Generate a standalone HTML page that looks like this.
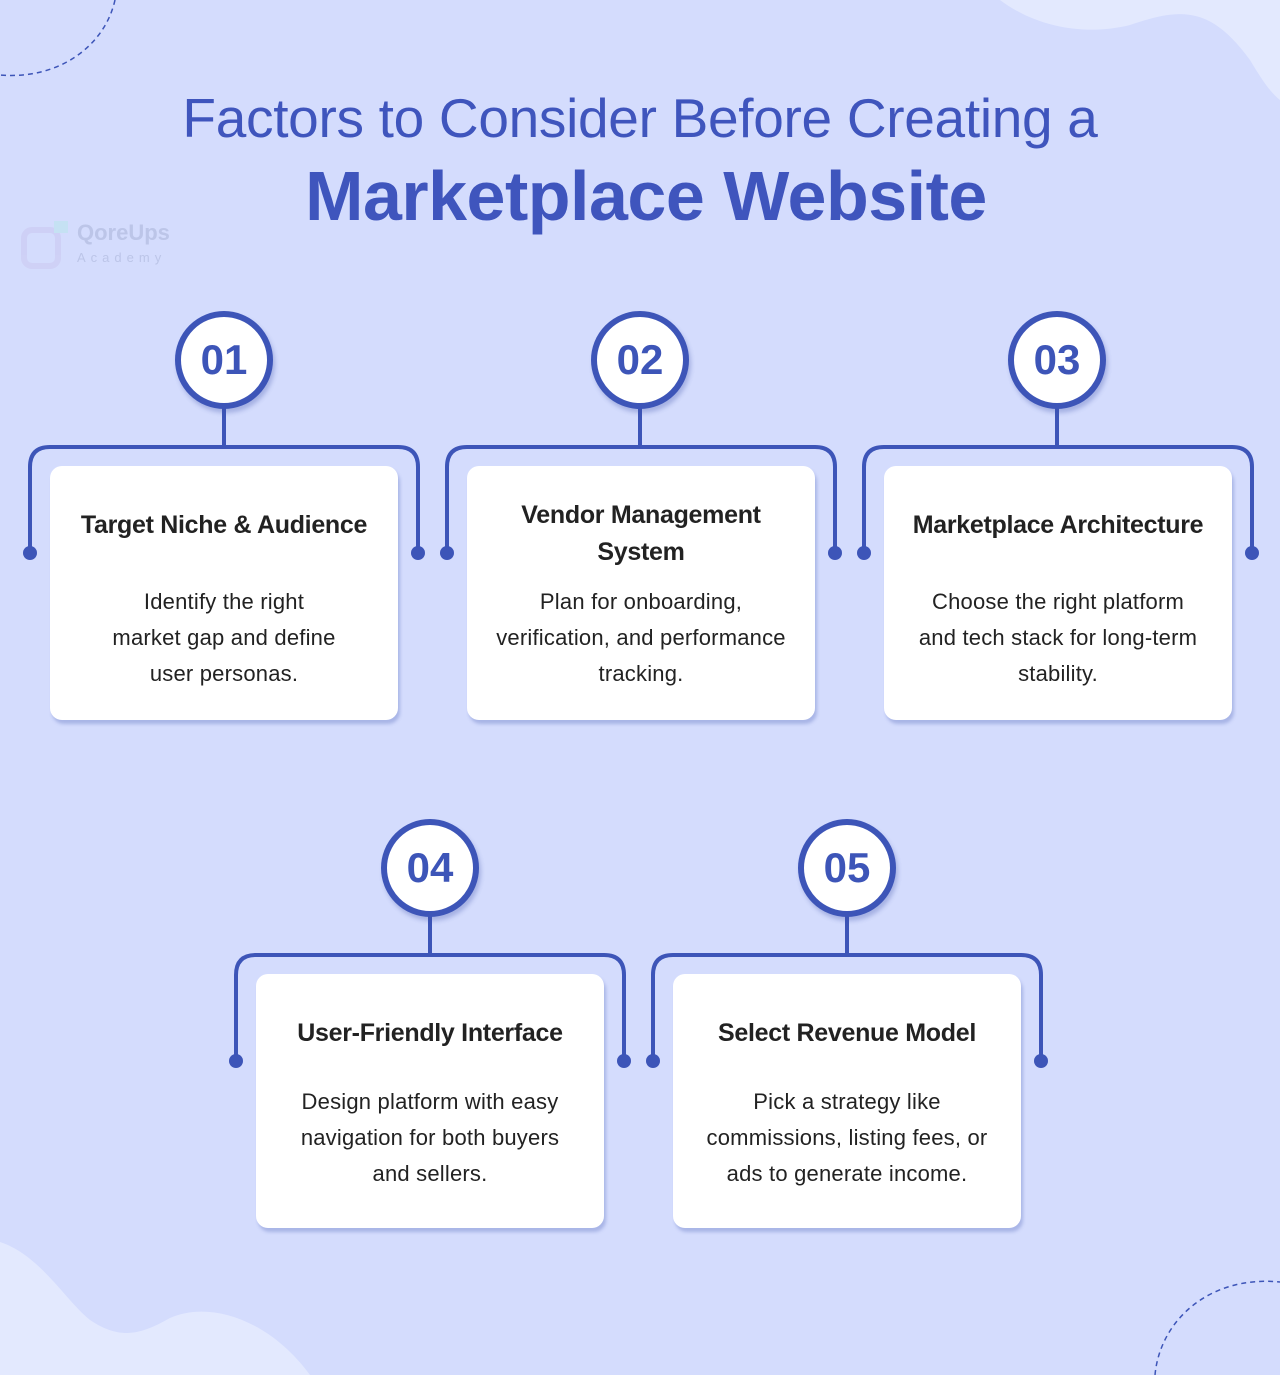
<!DOCTYPE html>
<html><head><meta charset="utf-8"><style>
*{margin:0;padding:0;box-sizing:border-box}
body{width:1280px;height:1375px;position:relative;overflow:hidden;background:#d4dcfd;font-family:"Liberation Sans",sans-serif}
.t1{position:absolute;left:0;width:1280px;top:86px;text-align:center;color:#3f55bd;font-size:55px;letter-spacing:-0.3px}
.t2{position:absolute;left:0;width:1292px;top:156px;text-align:center;color:#3f55bd;font-size:70px;font-weight:bold;letter-spacing:-0.5px}
.card{position:absolute;width:348px;height:254px;background:#fff;border-radius:12px;box-shadow:2px 4px 3px rgba(90,110,190,0.35);text-align:center;color:#222}
.card h3{position:absolute;left:-10px;right:-10px;font-size:25px;font-weight:bold;line-height:37px;letter-spacing:-0.3px}
.card p{position:absolute;left:-10px;right:-10px;top:118px;font-size:22px;line-height:36px;letter-spacing:0.2px}
.num{position:absolute;width:98px;height:98px;border-radius:50%;border:6px solid #3d55b8;background:#fff;color:#3d55b8;font-weight:bold;font-size:42px;line-height:86px;text-align:center;box-shadow:2px 4px 4px rgba(60,80,170,0.3)}
</style></head><body>
<svg width="1280" height="1375" style="position:absolute;left:0;top:0">
<path d="M1000 0 C1040 30 1090 35 1130 25 C1180 8 1210 5 1250 60 C1262 80 1270 92 1280 100 L1280 0 Z" fill="#e3e9fe"/>
<path d="M0 1242 C40 1255 65 1300 90 1320 C120 1340 140 1335 170 1318 C210 1300 270 1320 310 1375 L0 1375 Z" fill="#e3e9fe"/>
<path d="M115 0 C105 45 60 80 0 75" fill="none" stroke="#3d55b8" stroke-width="1.5" stroke-dasharray="5 4"/>
<path d="M1155 1375 C1160 1320 1210 1275 1280 1282" fill="none" stroke="#3d55b8" stroke-width="1.5" stroke-dasharray="5 4"/>
<g fill="none" stroke="#3d55b8" stroke-width="4">
<path d="M224 405 V447 M30 553 V467 Q30 447 50 447 H398 Q418 447 418 467 V553"/>
<path d="M640 405 V447 M447 553 V467 Q447 447 467 447 H815 Q835 447 835 467 V553"/>
<path d="M1057 405 V447 M864 553 V467 Q864 447 884 447 H1232 Q1252 447 1252 467 V553"/>
<path d="M430 913 V955 M236 1061 V975 Q236 955 256 955 H604 Q624 955 624 975 V1061"/>
<path d="M847 913 V955 M653 1061 V975 Q653 955 673 955 H1021 Q1041 955 1041 975 V1061"/>
</g>
<g fill="#3d55b8">
<circle cx="30" cy="553" r="7"/><circle cx="418" cy="553" r="7"/>
<circle cx="447" cy="553" r="7"/><circle cx="835" cy="553" r="7"/>
<circle cx="864" cy="553" r="7"/><circle cx="1252" cy="553" r="7"/>
<circle cx="236" cy="1061" r="7"/><circle cx="624" cy="1061" r="7"/>
<circle cx="653" cy="1061" r="7"/><circle cx="1041" cy="1061" r="7"/>
</g>
<g opacity="0.5">
<rect x="24" y="230" width="34" height="36" rx="8" fill="none" stroke="#c9c6f0" stroke-width="6"/>
<rect x="54" y="221" width="14" height="12" fill="#b8e6ea"/>
</g>
<text x="77" y="240" font-family="Liberation Sans" font-weight="bold" font-size="22" fill="#bcc5e8">QoreUps</text>
<text x="77" y="262" font-family="Liberation Sans" font-size="13" letter-spacing="5" fill="#bcc5e8">Academy</text>
</svg>
<div class="t1">Factors to Consider Before Creating a</div>
<div class="t2">Marketplace Website</div>

<div class="num" style="left:175px;top:311px">01</div>
<div class="num" style="left:591px;top:311px">02</div>
<div class="num" style="left:1008px;top:311px">03</div>
<div class="num" style="left:381px;top:819px">04</div>
<div class="num" style="left:798px;top:819px">05</div>

<div class="card" style="left:50px;top:466px"><h3 style="top:41px">Target Niche &amp; Audience</h3><p>Identify the right<br>market gap and define<br>user personas.</p></div>
<div class="card" style="left:467px;top:466px"><h3 style="top:31px">Vendor Management<br>System</h3><p>Plan for onboarding,<br>verification, and performance<br>tracking.</p></div>
<div class="card" style="left:884px;top:466px"><h3 style="top:41px">Marketplace Architecture</h3><p>Choose the right platform<br>and tech stack for long-term<br>stability.</p></div>
<div class="card" style="left:256px;top:974px"><h3 style="top:41px">User-Friendly Interface</h3><p style="top:110px">Design platform with easy<br>navigation for both buyers<br>and sellers.</p></div>
<div class="card" style="left:673px;top:974px"><h3 style="top:41px">Select Revenue Model</h3><p style="top:110px">Pick a strategy like<br>commissions, listing fees, or<br>ads to generate income.</p></div>
</body></html>
